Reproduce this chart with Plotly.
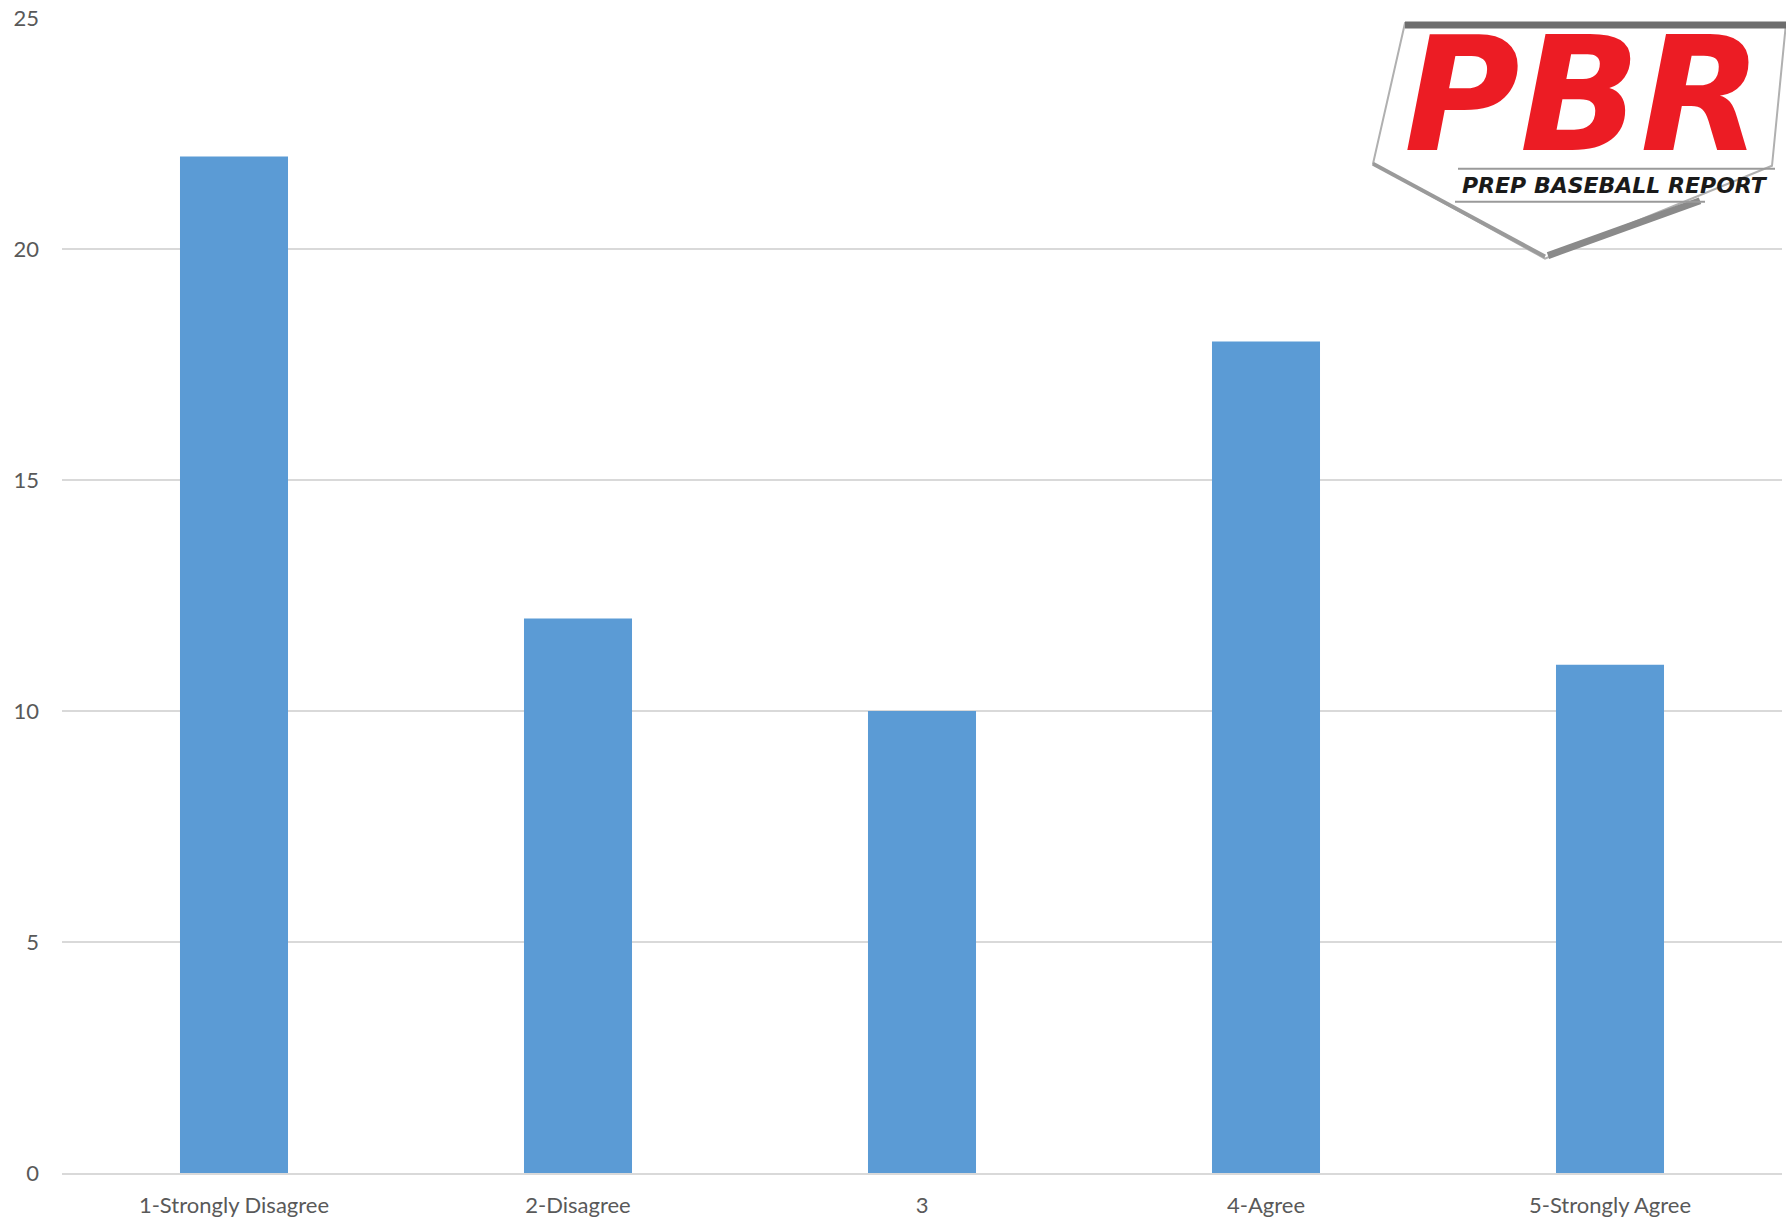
import plotly.graph_objects as go

categories = ["1-Strongly Disagree", "2-Disagree", "3", "4-Agree", "5-Strongly Agree"]
values = [22, 12, 10, 18, 11]
y_ticks = [0, 5, 10, 15, 20, 25]

W, H = 1786, 1222
L, R, T, B = 62, 4, 17, 48
PW, PH = W - L - R, H - T - B

def px(x):
    return (x - L) / PW

def py(y):
    return (H - B - y) / PH

fig = go.Figure()
fig.add_trace(go.Bar(x=categories, y=values, marker=dict(color="#5b9bd5", line=dict(width=0)),
                     hoverinfo="x+y"))

shapes = []
pent = [(1405, 22), (1786, 22), (1772, 165), (1545, 258), (1373, 163)]
path = "M " + " L ".join(f"{px(a)},{py(b)}" for a, b in pent) + " Z"
shapes.append(dict(type="path", xref="paper", yref="paper", path=path,
                   fillcolor="white", line=dict(color="#b0b0b0", width=2), layer="above"))
shapes.append(dict(type="line", xref="paper", yref="paper", x0=px(1405), y0=py(24), x1=px(1786), y1=py(24),
                   line=dict(color="#6e6e6e", width=7), layer="above"))
shapes.append(dict(type="line", xref="paper", yref="paper", x0=px(1373), y0=py(163), x1=px(1545), y1=py(256),
                   line=dict(color="#9a9a9a", width=4), layer="above"))
shapes.append(dict(type="line", xref="paper", yref="paper", x0=px(1548), y0=py(255), x1=px(1700), y1=py(200),
                   line=dict(color="#8a8a8a", width=7), layer="above"))
shapes.append(dict(type="line", xref="paper", yref="paper", x0=px(1458), y0=py(168), x1=px(1775), y1=py(168),
                   line=dict(color="#9a9a9a", width=2), layer="above"))
shapes.append(dict(type="line", xref="paper", yref="paper", x0=px(1455), y0=py(201), x1=px(1705), y1=py(201),
                   line=dict(color="#9a9a9a", width=2), layer="above"))

annotations = [
    dict(text="<b><i>PBR</i></b>", xref="paper", yref="paper", x=px(1583), y=py(94),
         xanchor="center", yanchor="middle", showarrow=False,
         font=dict(family="DejaVu Sans", size=158, color="#ec1c24")),
    dict(text="<b><i>PREP BASEBALL REPORT</i></b>", xref="paper", yref="paper", x=px(1615), y=py(185),
         xanchor="center", yanchor="middle", showarrow=False,
         font=dict(family="DejaVu Sans", size=22, color="#1a1a1a")),
]

fig.update_layout(
    width=W, height=H,
    margin=dict(l=L, r=R, t=T, b=B, pad=0),
    paper_bgcolor="white", plot_bgcolor="white",
    bargap=0.686,
    showlegend=False,
    font=dict(family="Lato", size=22, color="#595959"),
    shapes=shapes,
    annotations=annotations,
    xaxis=dict(showgrid=False, showline=True, linecolor="#d9d9d9", linewidth=2,
               ticks="", tickfont=dict(size=22, color="#595959"), ticklabelstandoff=12),
    yaxis=dict(range=[0, 25], tickvals=y_ticks, showgrid=True, gridcolor="#d9d9d9", gridwidth=2,
               zeroline=False, showline=False, ticks="",
               tickfont=dict(size=22, color="#595959"), ticklabelstandoff=22),
)

fig.write_html("out.html", config={"displayModeBar": False},
               post_script="document.body.style.margin='0';document.body.style.padding='0';")
